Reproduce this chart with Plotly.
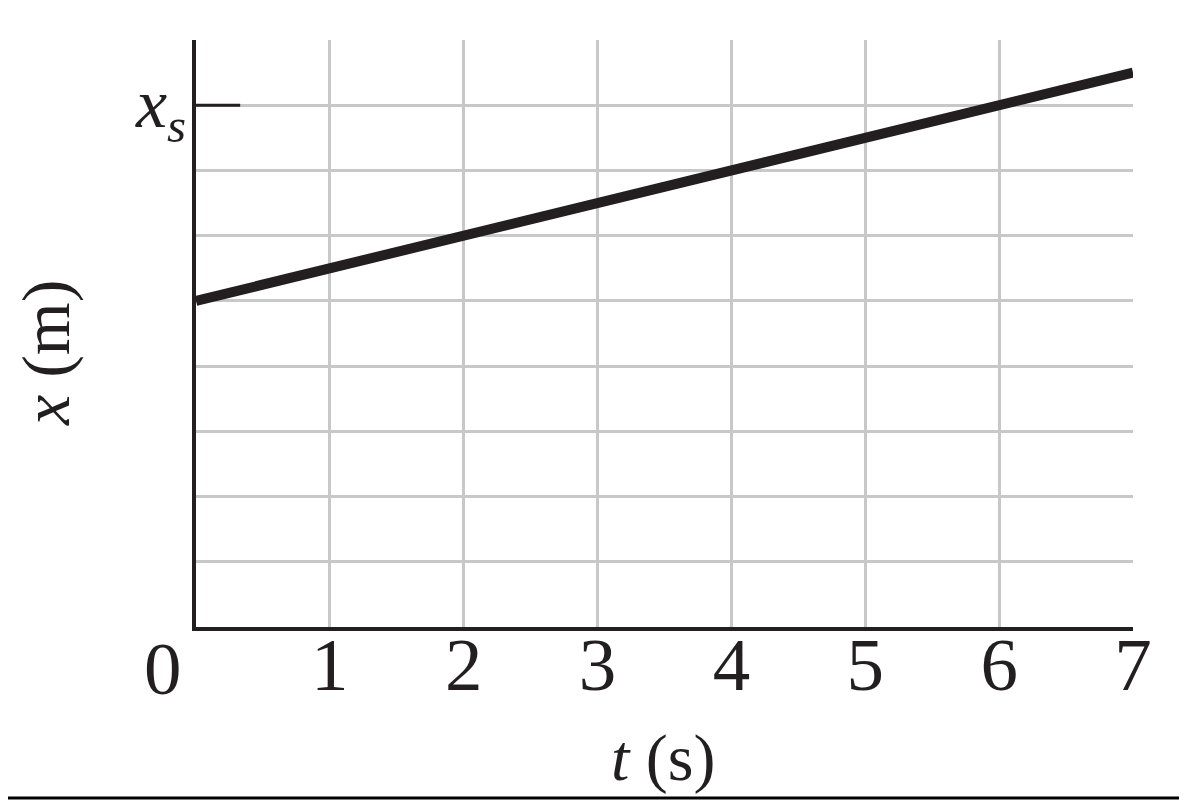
import plotly.graph_objects as go

# data
t_values = [0, 7]
x_values = [5.0, 8.5]
x_tick_vals = [1, 2, 3, 4, 5, 6, 7]
x_tick_text = ["1", "2", "3", "4", "5", "6", "7"]
y_grid_vals = [1, 2, 3, 4, 5, 6, 7, 8, 9]
xs_level = 8

SERIF = "Liberation Serif"
GRID = "#c8c8c8"
INK = "#231f20"

# page body has an 8px margin; compensate so the plot area lands at
# x 196..1133, y 40..627 in the window
L, R, T, B = 196, 1133, 40, 627
PW, PH = R - L, B - T


def px(xp):
    return (xp - L) / PW


def py(yp):
    return (B - yp) / PH


fig = go.Figure()
fig.add_trace(go.Scatter(x=t_values, y=x_values, mode="lines",
                         line=dict(color=INK, width=10),
                         showlegend=False, hoverinfo="skip"))

fig.update_layout(
    width=1179, height=792,
    margin=dict(l=L - 8, r=1187 - R, t=T - 8, b=800 - B),
    paper_bgcolor="white", plot_bgcolor="white",
    xaxis=dict(range=[0, 7], tickvals=x_tick_vals, ticktext=x_tick_text,
               showgrid=True, gridcolor=GRID, gridwidth=3,
               showline=True, linecolor=INK, linewidth=4,
               zeroline=False, ticks="", ticklabelstandoff=-31,
               tickfont=dict(family=SERIF, size=75, color=INK)),
    yaxis=dict(range=[0, 9], tickvals=y_grid_vals, showticklabels=False,
               showgrid=True, gridcolor=GRID, gridwidth=3,
               showline=True, linecolor=INK, linewidth=4,
               zeroline=False, ticks=""),
    annotations=[
        dict(x=0, y=0, xref="x", yref="y", text="0", showarrow=False,
             xanchor="center", yanchor="middle", xshift=-33, yshift=-41,
             font=dict(family=SERIF, size=75, color=INK)),
        dict(x=0, y=xs_level, xref="x", yref="y",
             text="<i>x</i><sub><i>s</i></sub>", showarrow=False,
             xanchor="right", yanchor="middle", xshift=-8, yshift=-4,
             font=dict(family=SERIF, size=70, color=INK)),
        dict(x=px(46), y=py(353), xref="paper", yref="paper", text="<i>x</i> (m)",
             showarrow=False, textangle=-90, xanchor="center", yanchor="middle",
             font=dict(family=SERIF, size=68, color=INK)),
        dict(x=px(663), y=py(758), xref="paper", yref="paper", text="<i>t</i> (s)",
             showarrow=False, xanchor="center", yanchor="middle",
             font=dict(family=SERIF, size=66, color=INK)),
    ],
    shapes=[
        dict(type="line", xref="x", yref="y", x0=0, x1=0.33, y0=xs_level, y1=xs_level,
             line=dict(color=INK, width=3)),
        dict(type="line", xref="paper", yref="paper", x0=px(0), x1=px(1187),
             y0=py(798), y1=py(798), line=dict(color="black", width=3)),
    ],
)

fig.write_html("out.html")
